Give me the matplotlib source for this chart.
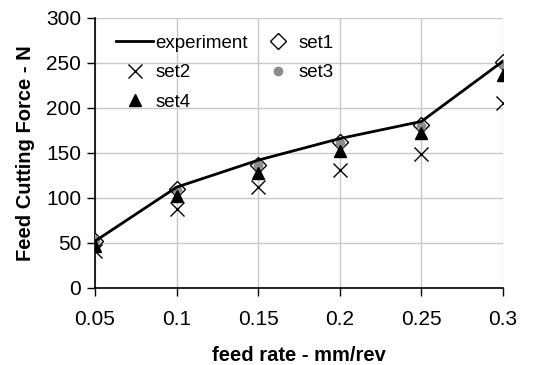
import matplotlib
matplotlib.use("Agg")
import matplotlib.pyplot as plt

plt.rcParams['font.family'] = ['Liberation Sans', 'DejaVu Sans']

feed = [0.05, 0.1, 0.15, 0.2, 0.25, 0.3]
experiment = [52, 112, 142, 166, 185, 252]
set1 = [52, 110, 137, 162, 181, 251]
set2 = [41, 88, 112, 131, 149, 206]
set3 = [53, 109, 137, 161, 180, 249]
set4 = [47, 102, 128, 152, 172, 237]

fig = plt.figure(figsize=(5.59, 3.65), dpi=100)
ax = fig.add_axes([0.170, 0.211, 0.730, 0.740])

h1, = ax.plot(feed, set1, 'D', ms=8, mfc='white', mec='black', mew=1.0, ls='none', label='set1', zorder=3)
h3, = ax.plot(feed, set3, 'o', ms=6, mfc='#8c8c8c', mec='#8c8c8c', ls='none', label='set3', zorder=4)
h4, = ax.plot(feed, set4, '^', ms=8, mfc='black', mec='black', ls='none', label='set4', zorder=5)
h2, = ax.plot(feed, set2, 'x', ms=10, mec='black', mew=1.0, ls='none', label='set2', zorder=5)
he, = ax.plot(feed, experiment, '-', color='black', lw=2, label='experiment', zorder=6)

ax.set_xlim(0.05, 0.3)
ax.set_ylim(0, 300)
ax.set_xticks(feed)
ax.set_xticklabels(['0.05', '0.1', '0.15', '0.2', '0.25', '0.3'])
ax.set_yticks(range(0, 301, 50))
ax.grid(True, color='#c8c8c8', lw=1)
ax.set_axisbelow(True)

for s in ['top', 'right']:
    ax.spines[s].set_visible(False)
ax.spines['left'].set_linewidth(1.2)
ax.spines['bottom'].set_linewidth(1.2)
ax.tick_params(labelsize=15, length=6, width=1)
ax.tick_params(axis='x', pad=10)
ax.tick_params(axis='y', pad=4)

ax.set_xlabel('feed rate - mm/rev', fontsize=14.5, fontweight='bold', labelpad=12)
ax.set_ylabel('Feed Cutting Force - N', fontsize=14.5, fontweight='bold', labelpad=8)

ax.legend([he, h2, h4, h1, h3], ['experiment', 'set2', 'set4', 'set1', 'set3'],
          ncol=2, frameon=False, fontsize=13.5, loc='upper left',
          bbox_to_anchor=(0.01, 1.0), handlelength=2.0, labelspacing=0.65,
          columnspacing=0.6, handletextpad=0.1)

fig.savefig('out.png', dpi=100)
